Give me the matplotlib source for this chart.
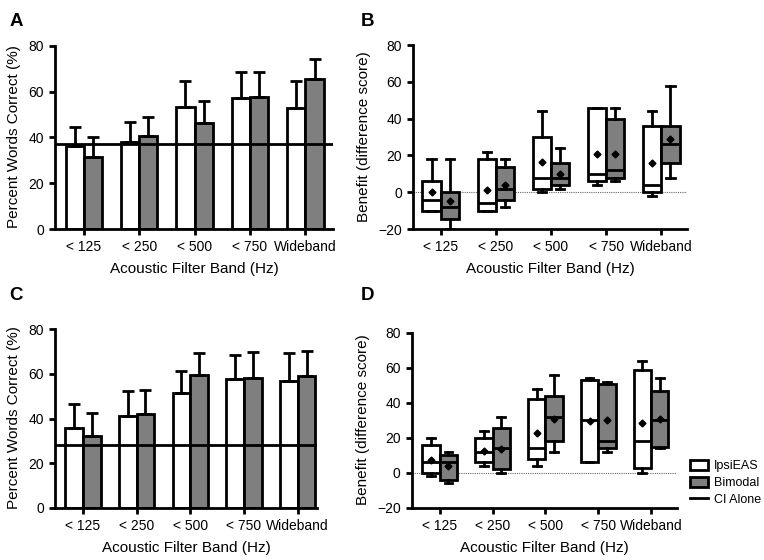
import numpy as np
import matplotlib
matplotlib.use("Agg")
import matplotlib.pyplot as plt
from matplotlib.patches import Patch
from matplotlib.lines import Line2D

plt.rcParams['font.family'] = ['Liberation Sans', 'DejaVu Sans']

bands = ['< 125', '< 250', '< 500', '< 750', 'Wideband']

# panel A: mean percent correct and upper error
a_ipsi = [36.5, 38.0, 53.5, 57.3, 52.9]
a_ipsi_err = [8.3, 8.8, 11.0, 11.2, 11.6]
a_bim = [31.4, 40.7, 46.5, 57.7, 65.5]
a_bim_err = [8.7, 8.1, 9.5, 11.0, 8.7]
a_ci = 37.0

# panel C
c_ipsi = [36.0, 41.0, 51.3, 57.9, 57.0]
c_ipsi_err = [10.7, 11.3, 10.2, 10.4, 12.5]
c_bim = [32.1, 42.2, 59.6, 58.1, 59.3]
c_bim_err = [10.6, 10.4, 9.9, 11.7, 10.8]
c_ci = 28.1

# panel B box stats: whislo, q1, med, q3, whishi, mean
b_ipsi = [[-10, -10, -4, 6, 18, 0],
          [-10, -10, -6, 18, 22, 1],
          [0, 2, 8, 30, 44, 16.7],
          [4, 6, 10, 46, 46, 20.7],
          [-2, 0, 4, 36, 44, 16]]
b_bim = [[-20, -14.4, -8, 0, 18, -5],
         [-8, -4, 2, 14, 18, 4],
         [2, 4, 8, 16, 24, 10],
         [6, 8, 12, 40, 46, 21],
         [8, 16, 26, 36, 58, 29]]

# panel D box stats
d_ipsi = [[-2, 0, 6, 16, 20, 7.2],
          [4, 6, 12, 20, 24, 12.7],
          [4, 8, 14, 42, 48, 22.8],
          [6, 6, 30, 53, 54, 29.8],
          [0, 3, 18, 59, 64, 28.5]]
d_bim = [[-6, -4, 6, 10, 12, 3.8],
         [0, 2, 14, 25.4, 32, 13.8],
         [12, 18, 32, 44, 56, 31],
         [12, 14, 18, 51, 52, 30],
         [14, 15, 30, 47, 54, 31]]

GRAY = '#7f7f7f'
W = 0.33
LW = 2.0


def style_axes(ax, ylim, yticks, xlim):
    ax.spines['top'].set_visible(False)
    ax.spines['right'].set_visible(False)
    ax.spines['left'].set_linewidth(LW)
    ax.spines['bottom'].set_linewidth(LW)
    ax.spines['left'].set_bounds(ylim[0], ylim[1])
    ax.set_ylim(ylim[0], ylim[1] + 0.5)
    ax.set_xlim(*xlim)
    ax.set_yticks(yticks)
    ax.set_xticks(range(len(bands)))
    ax.set_xticklabels(bands)
    ax.tick_params(axis='both', width=LW, length=4, labelsize=10, pad=4)
    ax.set_xlabel('Acoustic Filter Band (Hz)', fontsize=11, labelpad=6)


def bar_panel(ax, ipsi, ipsi_err, bim, bim_err, ci, xlim):
    x = np.arange(len(bands))
    ax.bar(x - W / 2, ipsi, W, color='white', edgecolor='black', linewidth=LW,
           yerr=[np.zeros(5), ipsi_err], error_kw=dict(ecolor='black', elinewidth=LW, capsize=4, capthick=LW), zorder=2)
    ax.bar(x + W / 2, bim, W, color=GRAY, edgecolor='black', linewidth=LW,
           yerr=[np.zeros(5), bim_err], error_kw=dict(ecolor='black', elinewidth=LW, capsize=4, capthick=LW), zorder=2)
    ax.axhline(ci, color='black', linewidth=LW, zorder=3)
    style_axes(ax, (0, 80), [0, 20, 40, 60, 80], xlim)
    ax.set_ylabel('Percent Words Correct (%)', fontsize=11, labelpad=5)


def stats(rows):
    out = []
    for r in rows:
        out.append(dict(whislo=r[0], q1=r[1], med=r[2], q3=r[3], whishi=r[4], mean=r[5]))
    return out


def box_panel(ax, ipsi, bim, xlim):
    x = np.arange(len(bands))
    ax.axhline(0, color='#666666', linewidth=0.8, linestyle=(0, (1, 1)), zorder=0)
    for rows, off, fc in [(ipsi, -W / 2, 'white'), (bim, W / 2, GRAY)]:
        ax.bxp(stats(rows), positions=x + off, widths=W, patch_artist=True,
               showmeans=True, showfliers=False,
               boxprops=dict(facecolor=fc, edgecolor='black', linewidth=LW),
               medianprops=dict(color='black', linewidth=LW),
               whiskerprops=dict(color='black', linewidth=LW),
               capprops=dict(color='black', linewidth=LW),
               meanprops=dict(marker='D', markerfacecolor='black', markeredgecolor='black', markersize=3.5),
               capwidths=0.15, manage_ticks=False)
    style_axes(ax, (-20, 80), [-20, 0, 20, 40, 60, 80], xlim)
    ax.set_ylabel('Benefit (difference score)', fontsize=11, labelpad=5)


fig = plt.figure(figsize=(7.64, 5.6), dpi=100)
axA = fig.add_axes([0.072, 0.591, 0.364, 0.329])
axB = fig.add_axes([0.5406, 0.591, 0.359, 0.330])
axC = fig.add_axes([0.072, 0.093, 0.343, 0.321])
axD = fig.add_axes([0.539, 0.093, 0.347, 0.314])

bar_panel(axA, a_ipsi, a_ipsi_err, a_bim, a_bim_err, a_ci, (-0.52, 4.5))
box_panel(axB, b_ipsi, b_bim, (-0.5, 4.47))
bar_panel(axC, c_ipsi, c_ipsi_err, c_bim, c_bim_err, c_ci, (-0.52, 4.36))
box_panel(axD, d_ipsi, d_bim, (-0.53, 4.49))

for lab, x, y in [('A', 0.012, 0.977), ('B', 0.472, 0.977), ('C', 0.012, 0.487), ('D', 0.472, 0.487)]:
    fig.text(x, y, lab, fontsize=13.5, fontweight='bold', va='top', ha='left')

handles = [Patch(facecolor='white', edgecolor='black', linewidth=LW, label='IpsiEAS'),
           Patch(facecolor=GRAY, edgecolor='black', linewidth=LW, label='Bimodal'),
           Line2D([0], [0], color='black', linewidth=LW, label='CI Alone')]
fig.legend(handles=handles, loc='upper left', bbox_to_anchor=(0.897, 0.188),
           frameon=False, fontsize=9, handlelength=1.4, handleheight=0.9,
           handletextpad=0.5, labelspacing=0.35, borderaxespad=0)

fig.savefig('out.png', dpi=100)
